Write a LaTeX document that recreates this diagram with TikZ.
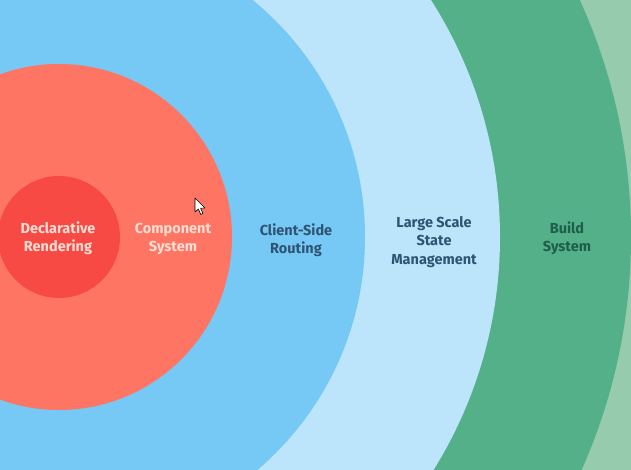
\documentclass[tikz,border=0pt]{standalone}
\usepackage{fontspec}
\newfontfamily\lblfont{Fira Sans}
\definecolor{cRed}{RGB}{248,74,68}
\definecolor{cOrange}{RGB}{254,118,99}
\definecolor{cBlue}{RGB}{118,200,245}
\definecolor{cLBlue}{RGB}{188,228,250}
\definecolor{cGreen}{RGB}{83,176,137}
\definecolor{cLGreen}{RGB}{150,203,173}
\definecolor{tLight}{RGB}{255,222,212}
\definecolor{tBlue}{RGB}{46,84,114}
\definecolor{tGreen}{RGB}{30,94,74}
\begin{document}
\begin{tikzpicture}[x=1pt,y=-1pt,
  lbl/.style={font=\lblfont\bfseries\fontsize{14.5}{18.5}\selectfont, align=center, inner sep=0pt}]
\useasboundingbox (0,0) rectangle (631,470);
\clip (0,0) rectangle (631,470);
\fill[cLGreen] (0,0) rectangle (631,470);
\coordinate (c) at (59,237);
\fill[cGreen] (c) circle[radius=572];
\fill[cLBlue] (c) circle[radius=441];
\fill[cBlue] (c) circle[radius=306];
\fill[cOrange] (c) circle[radius=173];
\fill[cRed] (c) circle[radius=61];
\node[lbl, text=tLight] (dr) at (58,238) {Declarative\\Rendering};
\node[lbl, text=tLight] (cs) at (173,239) {Component\\System};
\node[lbl, text=tBlue] (csr) at (296,240) {Client-Side\\Routing};
\node[lbl, text=tBlue] (lss) at (434,242) {Large Scale\\State\\Management};
\node[lbl, text=tGreen] (bs) at (567,238) {Build\\System};
% mouse cursor
\draw[black, fill=white, line width=0.6pt, line join=round]
  (195,198) -- (195,212) -- (198.3,209) -- (200.8,214.5) -- (203,213.5) -- (200.6,208.2) -- (205,208) -- cycle;
\end{tikzpicture}
\end{document}
